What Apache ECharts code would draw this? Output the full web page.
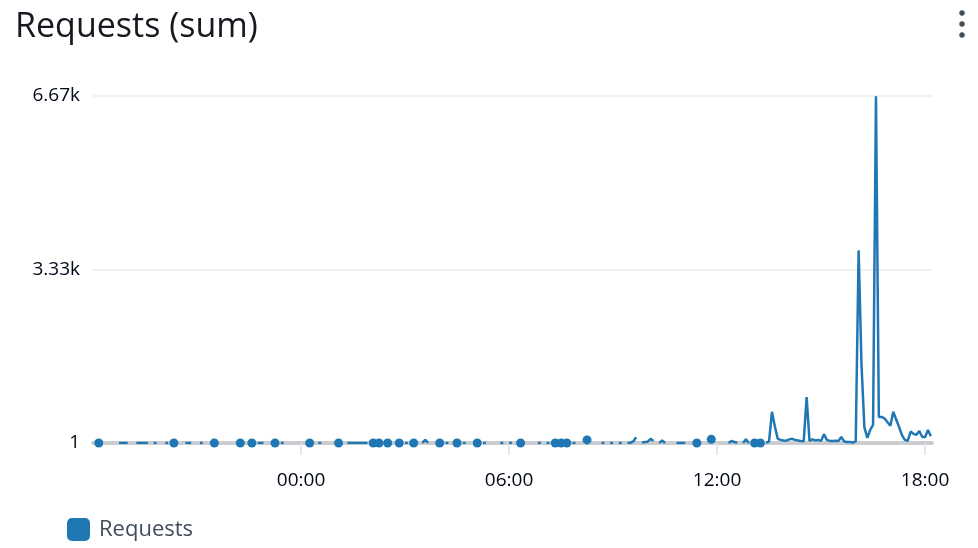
<!DOCTYPE html>
<html>
<head>
<meta charset="utf-8">
<title>Requests (sum)</title>
<script src="https://cdn.jsdelivr.net/npm/echarts@6/dist/echarts.min.js"></script>
<style>
  html, body { margin: 0; padding: 0; background: #fff; }
  #chart { width: 978px; height: 548px; }
</style>
</head>
<body>
<div id="chart"></div>
<script>
// 5 minute sums, previous evening (day 13)
var eveningPoints = [
    ['18:10', 1],
    ['18:45', 1], ['18:50', 1], ['18:55', 1], ['19:00', 1],
    ['19:15', 1], ['19:20', 1], ['19:25', 1], ['19:30', 1], ['19:35', 1],
    ['19:45', 1], ['19:50', 1],
    ['20:05', 1], ['20:10', 1],
    ['20:20', 1],
    ['20:40', 1], ['20:45', 1], ['20:50', 1],
    ['21:05', 1], ['21:10', 1],
    ['21:30', 1],
    ['22:15', 1],
    ['22:35', 1],
    ['22:45', 1], ['22:50', 1], ['22:55', 1],
    ['23:15', 1],
    ['23:25', 1], ['23:30', 1]
];
// day 14, midnight to noon
var morningPoints = [
    ['00:15', 1],
    ['00:30', 1], ['00:35', 1],
    ['01:05', 1],
    ['01:20', 1], ['01:25', 1], ['01:30', 1], ['01:35', 1], ['01:40', 1], ['01:45', 1], ['01:50', 1], ['01:55', 1],
    ['02:05', 1],
    ['02:15', 1],
    ['02:30', 1],
    ['02:50', 1],
    ['03:00', 1], ['03:05', 1],
    ['03:15', 1],
    ['03:30', 1], ['03:35', 60], ['03:40', 1],
    ['04:00', 1],
    ['04:10', 1], ['04:15', 1],
    ['04:30', 1],
    ['04:40', 1], ['04:45', 1],
    ['05:05', 1],
    ['05:15', 1], ['05:20', 1],
    ['05:45', 1], ['05:50', 1],
    ['06:00', 1], ['06:05', 1],
    ['06:20', 1],
    ['06:50', 1], ['06:55', 1],
    ['07:05', 1], ['07:10', 1],
    ['07:20', 1],
    ['07:30', 1],
    ['07:40', 1],
    ['07:50', 1], ['07:55', 1],
    ['08:15', 60],
    ['08:40', 1], ['08:45', 1],
    ['08:55', 1], ['09:00', 1],
    ['09:10', 1], ['09:15', 1],
    ['09:25', 1], ['09:30', 5], ['09:35', 30], ['09:40', 110],
    ['09:50', 10], ['09:55', 20], ['10:00', 25], ['10:05', 80], ['10:10', 40],
    ['10:20', 1], ['10:25', 50], ['10:30', 1],
    ['10:50', 1], ['10:55', 1], ['11:00', 1], ['11:05', 1],
    ['11:25', 1],
    ['11:50', 70]
];
// day 14, noon onwards
var afternoonPoints = [
    ['12:20', 1], ['12:25', 40], ['12:30', 20], ['12:35', 5],
    ['12:45', 1], ['12:50', 70], ['12:55', 1],
    ['13:05', 1],
    ['13:15', 1],
    ['13:25', 1], ['13:30', 30], ['13:35', 600], ['13:40', 320], ['13:45', 80],
    ['13:50', 60], ['13:55', 50], ['14:00', 45], ['14:05', 70], ['14:10', 80],
    ['14:15', 60], ['14:20', 50], ['14:25', 40], ['14:30', 35], ['14:35', 880],
    ['14:40', 40], ['14:45', 70], ['14:50', 50], ['14:55', 60], ['15:00', 40],
    ['15:05', 170], ['15:10', 60], ['15:15', 40], ['15:20', 40], ['15:25', 45],
    ['15:30', 40], ['15:35', 115], ['15:40', 30], ['15:45', 20], ['15:50', 20],
    ['15:55', 10], ['16:00', 30], ['16:05', 3700], ['16:10', 1500], ['16:15', 300],
    ['16:20', 100], ['16:25', 250], ['16:30', 350], ['16:35', 6660], ['16:40', 500],
    ['16:45', 500], ['16:50', 470], ['16:55', 400], ['17:00', 330], ['17:05', 600],
    ['17:10', 450], ['17:15', 310], ['17:20', 150], ['17:25', 60], ['17:30', 40],
    ['17:35', 220], ['17:40', 175], ['17:45', 160], ['17:50', 230], ['17:55', 120],
    ['18:00', 110], ['18:05', 250], ['18:10', 130]
];

var xTickTimes = ['14 00:00', '14 06:00', '14 12:00', '14 18:00'];
var xTickLabels = ['00:00', '06:00', '12:00', '18:00'];
var yTickLabels = ['1', '3.33k', '6.67k'];
var yStep = 3333;

var STEP = 5 * 60 * 1000;
function ts(s) {
    return new Date('2024-05-' + s.replace(' ', 'T') + ':00').getTime();
}

var points = [];
eveningPoints.forEach(function (p) { points.push([ts('13 ' + p[0]), p[1]]); });
morningPoints.forEach(function (p) { points.push([ts('14 ' + p[0]), p[1]]); });
afternoonPoints.forEach(function (p) { points.push([ts('14 ' + p[0]), p[1]]); });

// break the line where periods are missing, dot the lonely points
var seriesData = [];
for (var i = 0; i < points.length; i++) {
    var prevGap = i > 0 ? points[i][0] - points[i - 1][0] : Infinity;
    var nextGap = i < points.length - 1 ? points[i + 1][0] - points[i][0] : Infinity;
    var lonely = prevGap > STEP && nextGap > STEP;
    seriesData.push({ value: points[i], symbol: lonely ? 'circle' : 'none' });
    if (nextGap > STEP && i < points.length - 1) {
        seriesData.push({ value: [points[i][0] + STEP, '-'], symbol: 'none' });
    }
}

var xTickValues = xTickTimes.map(ts);

var dom = document.getElementById('chart');
var myChart = echarts.init(dom);
var font = '"Open Sans", "Noto Sans", sans-serif';

myChart.setOption({
    animation: false,
    textStyle: { fontFamily: font },
    title: {
        text: 'Requests (sum)',
        left: 10,
        top: 5,
        textStyle: { fontSize: 34, fontWeight: 500, color: '#16191f', fontFamily: font }
    },
    legend: {
        left: 62,
        top: 513,
        itemWidth: 23,
        itemHeight: 23,
        icon: 'path://M5,0 H18 A5,5 0 0 1 23,5 V18 A5,5 0 0 1 18,23 H5 A5,5 0 0 1 0,18 V5 A5,5 0 0 1 5,0 Z',
        textStyle: { fontSize: 22, color: '#414d5c', fontFamily: font, padding: [0, 0, 0, 4] },
        selectedMode: false
    },
    grid: {
        left: 93,
        right: 46,
        top: 96,
        bottom: 105
    },
    xAxis: {
        type: 'value',
        min: ts('13 18:00'),
        max: ts('14 18:12'),
        axisLine: { lineStyle: { color: '#cacccf', width: 4 } },
        axisTick: {
            customValues: xTickValues,
            length: 12,
            lineStyle: { color: '#e3e5e8', width: 2 }
        },
        axisLabel: {
            customValues: xTickValues,
            margin: 28,
            fontSize: 19,
            color: '#000716',
            formatter: function (v) {
                var k = xTickValues.indexOf(v);
                return k < 0 ? '' : xTickLabels[k];
            }
        },
        splitLine: { show: false }
    },
    yAxis: {
        type: 'value',
        min: 0,
        max: 2 * yStep,
        interval: yStep,
        axisLine: { show: false },
        axisTick: { show: false },
        axisLabel: {
            margin: 13,
            fontSize: 19,
            color: '#000716',
            formatter: function (v) {
                return yTickLabels[Math.round(v / yStep)];
            }
        },
        splitLine: { lineStyle: { color: '#e9ebed', width: 1.5 } }
    },
    graphic: [
        { type: 'circle', shape: { cx: 962, cy: 13, r: 2.7 }, style: { fill: '#414d5c' } },
        { type: 'circle', shape: { cx: 962, cy: 24, r: 2.7 }, style: { fill: '#414d5c' } },
        { type: 'circle', shape: { cx: 962, cy: 35, r: 2.7 }, style: { fill: '#414d5c' } }
    ],
    series: [{
        name: 'Requests',
        type: 'line',
        data: seriesData,
        showSymbol: true,
        showAllSymbol: true,
        symbolSize: 9,
        connectNulls: false,
        color: '#1f77b4',
        lineStyle: { width: 2.5, color: '#1f77b4' },
        itemStyle: { color: '#1f77b4' },
        emphasis: { disabled: true }
    }]
});
window.onresize = myChart.resize;
</script>
</body>
</html>
